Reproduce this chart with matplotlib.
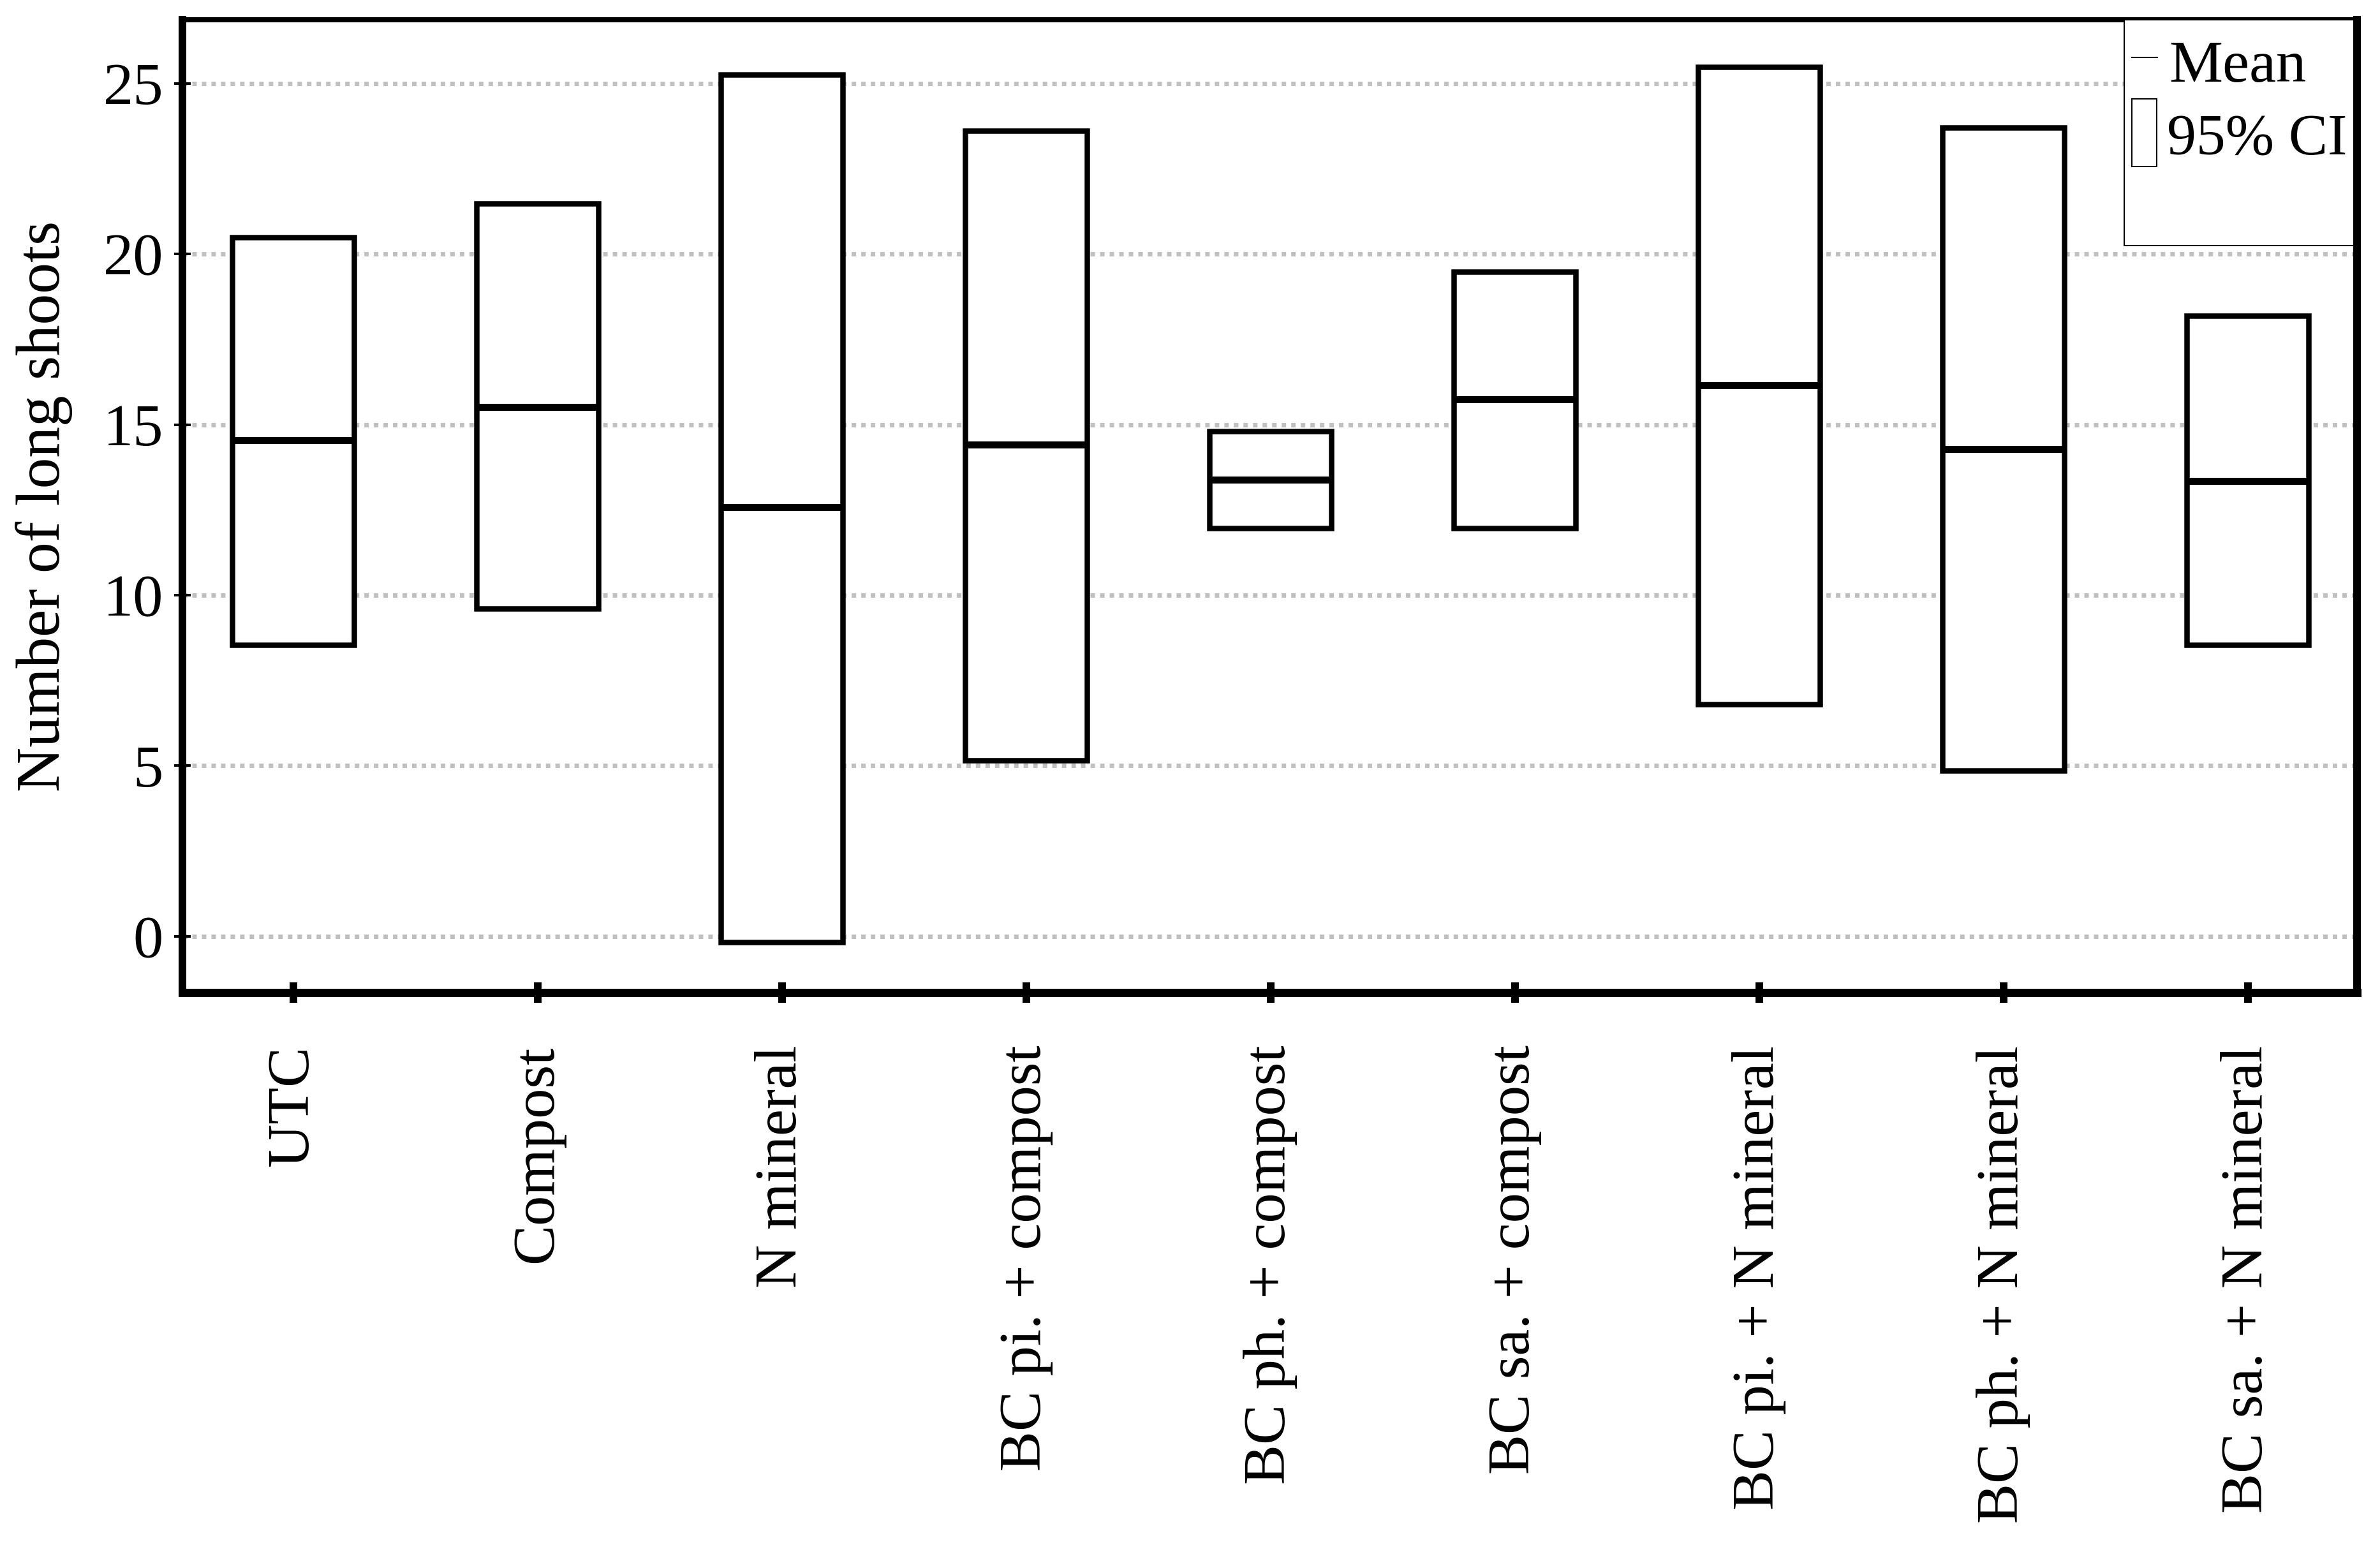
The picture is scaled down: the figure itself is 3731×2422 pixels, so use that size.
import matplotlib
matplotlib.use("Agg")
import matplotlib.pyplot as plt
from matplotlib.patches import Rectangle
from matplotlib.lines import Line2D

categories = ["UTC", "Compost", "N mineral", "BC pi. + compost", "BC ph. + compost",
              "BC sa. + compost", "BC pi. + N mineral", "BC ph. + N mineral", "BC sa. + N mineral"]
means = [14.55, 15.52, 12.59, 14.41, 13.39, 15.75, 16.15, 14.28, 13.35]
ci_low = [8.54, 9.61, -0.18, 5.16, 11.97, 11.97, 6.81, 4.85, 8.54]
ci_high = [20.50, 21.49, 25.27, 23.62, 14.81, 19.48, 25.49, 23.71, 18.19]
yticks = [0, 5, 10, 15, 20, 25]

plt.rcParams['font.family'] = ['Liberation Serif', 'DejaVu Serif']

fig = plt.figure(figsize=(18.655, 12.11), dpi=200)
ax = fig.add_axes([0.0767, 0.3576, 0.9903 - 0.0767, 0.9872 - 0.3576])

px = 72 / 200  # points per pixel

width = 0.5
for i, (lo, hi, m) in enumerate(zip(ci_low, ci_high, means)):
    ax.add_patch(Rectangle((i - width / 2, lo), width, hi - lo, facecolor="white",
                           edgecolor="black", linewidth=8.5 * px, zorder=3))
    ax.plot([i - width / 2, i + width / 2], [m, m], color="black", linewidth=11 * px,
            zorder=4, solid_capstyle="butt")

ax.set_xlim(-0.453, 8.447)
ax.set_ylim(-1.65, 26.87)
ax.set_yticks(yticks)
ax.set_xticks(range(len(categories)))
ax.set_xticklabels(categories, rotation=90, fontsize=34)
ax.tick_params(axis="y", labelsize=34, direction="inout", length=27 * px, width=4 * px, pad=6)
ax.tick_params(axis="x", direction="inout", length=32 * px, width=12 * px, pad=24)

ax.grid(axis="y", color="#c0c0c0", linewidth=7 * px, linestyle=(0, (1, 1.14)),
        dash_capstyle="butt", zorder=0)
ax.set_axisbelow(True)

ax.spines["left"].set_linewidth(12 * px)
ax.spines["right"].set_linewidth(12 * px)
ax.spines["bottom"].set_linewidth(13 * px)
ax.spines["top"].set_linewidth(8 * px)

ax.set_ylabel("Number of long shoots", fontsize=35)
ax.yaxis.set_label_coords(-0.0505, 0.5)

# legend (manual, in axes fraction)
T = ax.transAxes
ax.add_patch(Rectangle((0.893, 0.768), 0.9986 - 0.893, 1.0 - 0.768, transform=T,
                       facecolor="white", edgecolor="black", linewidth=2 * px, zorder=5,
                       clip_on=False))
ax.add_line(Line2D([0.8965, 0.9082], [0.961, 0.961], transform=T, color="black",
                   linewidth=2 * px, zorder=6))
ax.add_patch(Rectangle((0.8965, 0.849), 0.0114, 0.9187 - 0.849, transform=T,
                       facecolor="white", edgecolor="black", linewidth=2 * px, zorder=6))
ax.text(0.9135, 0.9364, "Mean", transform=T, fontsize=34, va="baseline", ha="left", zorder=7)
ax.text(0.9125, 0.8610, "95% CI", transform=T, fontsize=33, va="baseline", ha="left", zorder=7)

fig.savefig("out.png", dpi=200)
